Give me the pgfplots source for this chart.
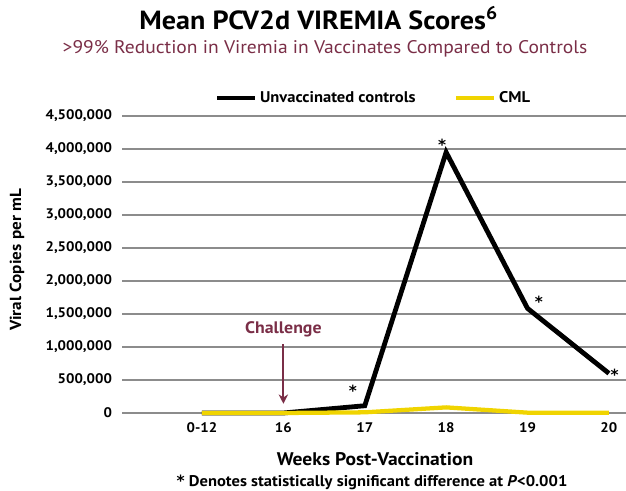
\documentclass[border=0pt]{standalone}
\usepackage{pgfplots}
\pgfplotsset{compat=1.18}
\usetikzlibrary{arrows.meta}
\usepackage{fontspec}
\setmainfont{PT Sans}[FakeStretch=1.07]
\newfontfamily\djv{DejaVu Sans}
\definecolor{maroon}{HTML}{7A2E47}
\definecolor{cmlyellow}{HTML}{F0D400}
\definecolor{gridgray}{HTML}{8C8C8C}
\newcommand{\sig}{{\djv\bfseries *}}
\begin{document}
\begin{tikzpicture}
\useasboundingbox (0,0) rectangle (469.5pt,368.25pt);
\begin{axis}[
  at={(91.5pt,58.5pt)}, anchor=south west,
  scale only axis, width=378pt, height=222.75pt,
  xmin=-0.983, xmax=5.21, ymin=0, ymax=4500000,
  axis line style={draw=none},
  major tick length=0pt,
  xtick={0,1,2,3,4,5},
  xticklabels={0-12,16,17,18,19,20},
  ytick={0,500000,1000000,1500000,2000000,2500000,3000000,3500000,4000000,4500000},
  scaled y ticks=false,
  /pgf/number format/assume math mode=true,
  /pgf/number format/.cd, fixed, 1000 sep={,}, /pgfplots/.cd,
  ymajorgrids, grid style={gridgray, line width=1pt},
  yticklabel style={font=\bfseries\fontsize{10.4}{12}\selectfont, anchor=east, xshift=-4pt},
  xticklabel style={font=\bfseries\fontsize{10.4}{12}\selectfont, anchor=base, yshift=-14.5pt},
  clip=false,
  legend columns=2,
  legend style={draw=none, fill=none, at={(0.4995,1.0606)}, anchor=center,
    font=\bfseries\fontsize{11.6}{13}\selectfont,
    /tikz/every even column/.append style={column sep=27pt}},
  legend image code/.code={\draw[#1] (0pt,0pt) -- (28.5pt,0pt);},
]
\addplot[black, line width=3.6pt, line join=miter] coordinates {(0,0) (1,0) (2,110000) (3,3950000) (4,1585000) (5,600000)};
\addlegendentry{Unvaccinated controls}
\addplot[cmlyellow, line width=3.2pt] coordinates {(0,0) (1,0) (2,10000) (3,85000) (4,5000) (5,5000)};
\addlegendentry{CML}
\node[font=\bfseries\fontsize{12.5}{14}\selectfont, text=maroon, anchor=base] at (axis cs:1,1200000) {Challenge};
\draw[maroon, line width=1.5pt, -{Stealth[length=7pt,width=7pt]}] (axis cs:1,1040000) -- (axis cs:1,140000);
\node[font=\fontsize{11.5}{13}\selectfont] at (axis cs:1.855,330000) {\sig};
\node[font=\fontsize{11.5}{13}\selectfont] at (axis cs:2.95,4070000) {\sig};
\node[font=\fontsize{11.5}{13}\selectfont] at (axis cs:4.14,1690000) {\sig};
\node[font=\fontsize{11.5}{13}\selectfont] at (axis cs:5.07,585000) {\sig};
\end{axis}
\node[font=\bfseries\fontsize{19.7}{22}\selectfont, anchor=base] at (239pt,345.75pt) {Mean PCV2d VIREMIA Scores\textsuperscript{6}};
\node[font=\fontsize{13.7}{15}\selectfont, text=maroon, anchor=base] at (243.75pt,327.75pt) {>99\% Reduction in Viremia in Vaccinates Compared to Controls};
\node[font=\bfseries\fontsize{12}{14}\selectfont, rotate=90] at (12.75pt,173.25pt) {Viral Copies per mL};
\node[font=\bfseries\fontsize{13.7}{15}\selectfont, anchor=base] at (281.25pt,18.75pt) {Weeks Post-Vaccination};
\node[font=\bfseries\fontsize{11.6}{13}\selectfont, anchor=base] at (279pt,3pt) {\sig{} Denotes statistically significant difference at \textit{P}<0.001};
\end{tikzpicture}
\end{document}
